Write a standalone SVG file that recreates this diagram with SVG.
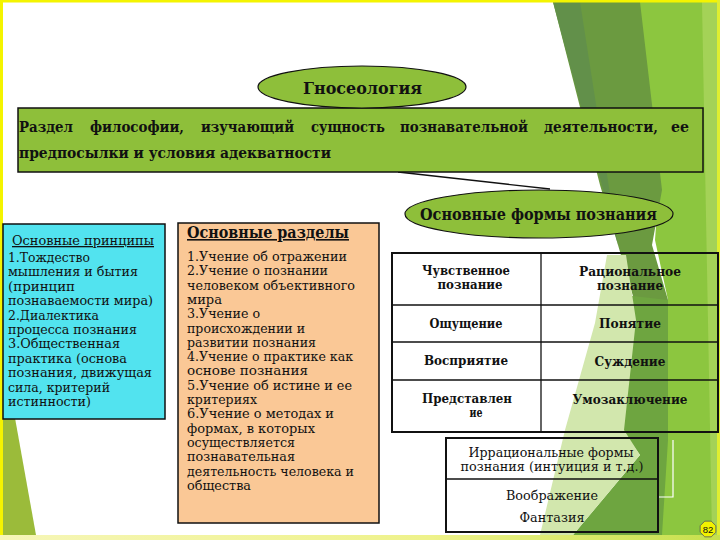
<svg xmlns="http://www.w3.org/2000/svg" width="720" height="540" viewBox="0 0 720 540">
<defs>
<style>
.t{fill:#111;font-family:"DejaVu Serif","Liberation Serif",serif;}
.n{font-size:13px;}
.b{font-weight:bold;}
.u{text-decoration:underline;}
.box{stroke:#111;stroke-width:1.5;}
.ell{fill:#8ebf3a;stroke:#111;stroke-width:1.2;}
.tbl{fill:none;stroke:#111;stroke-width:2;}
.ln{stroke:#111;stroke-width:1.3;}
</style>
<linearGradient id="bot" x1="0" y1="0" x2="1" y2="0">
<stop offset="0" stop-color="#f6f6b8"/>
<stop offset="0.6" stop-color="#eef28a"/>
<stop offset="1" stop-color="#c6e04c"/>
</linearGradient>
</defs>
<g id="background">
<rect x="0" y="0" width="720" height="540" fill="#ffffff"/>
<polygon points="637,2 718,2 718,535 650,535 662,430 668,300 655,240 660,170" fill="#8cc63f"/>
<polygon points="702,2 718,2 718,535 712,535" fill="#a4d257"/>
<polygon points="553,2 640,2 662,190 652,245 668,300 668,430 640,320 618,245 600,185" fill="#6b9a40"/>
<polygon points="553,2 580,2 618,245" fill="#62904a"/>
<polygon points="624,295 668,300 668,440 662,535 573,535 640,455 622,430" fill="#6ea540"/>
<polygon points="607,255 626,255 636,320 624,430 640,455 573,535 540,535 565,430 595,323" fill="#d2e7ad"/>
<polygon points="3,418 15,418 36,535 3,535" fill="#9bbb3a"/>
<polyline points="658,497 673,497 673,440" fill="none" stroke="#ffffff" stroke-width="1.2"/>
<rect x="0" y="0" width="720" height="2.5" fill="#f4f400"/>
<rect x="0" y="0" width="3" height="540" fill="#f4f400"/>
<rect x="717" y="0" width="3" height="540" fill="#dfee30"/>
<rect x="0" y="535" width="720" height="5" fill="url(#bot)"/>
</g>
<g id="connectors">
<line class="ln" x1="398" y1="172" x2="550" y2="189"/>
</g>
<g id="definition">
<rect class="box" x="18" y="108" width="685" height="64" fill="#8ebf3a"/>
<text class="t b" font-size="14" y="132">
<tspan x="19" textLength="54" lengthAdjust="spacingAndGlyphs">Раздел</tspan>
<tspan x="90" textLength="94" lengthAdjust="spacingAndGlyphs">философии,</tspan>
<tspan x="201" textLength="93" lengthAdjust="spacingAndGlyphs">изучающий</tspan>
<tspan x="311" textLength="74" lengthAdjust="spacingAndGlyphs">сущность</tspan>
<tspan x="400" textLength="128" lengthAdjust="spacingAndGlyphs">познавательной</tspan>
<tspan x="544" textLength="114" lengthAdjust="spacingAndGlyphs">деятельности,</tspan>
<tspan x="671" textLength="18" lengthAdjust="spacingAndGlyphs">ее</tspan>
</text>
<text class="t b" font-size="14" x="19" y="158" textLength="312" lengthAdjust="spacingAndGlyphs">предпосылки и условия адекватности</text>
</g>
<g id="gnoseology">
<ellipse class="ell" cx="362" cy="87" rx="104" ry="21"/>
<text class="t b" font-size="16" x="303" y="94" textLength="119" lengthAdjust="spacingAndGlyphs">Гносеология</text>
</g>
<g id="principles" class="t n">
<rect class="box" x="3" y="224" width="162" height="195" fill="#52e3ef"/>
<text class="u" x="12" y="245" textLength="142" lengthAdjust="spacingAndGlyphs">Основные принципы</text>
<text x="8" y="262" textLength="82" lengthAdjust="spacingAndGlyphs">1.Тождество</text>
<text x="8" y="276.4" textLength="130" lengthAdjust="spacingAndGlyphs">мышления и бытия</text>
<text x="8" y="290.8" textLength="67" lengthAdjust="spacingAndGlyphs">(принцип</text>
<text x="8" y="305.2" textLength="145" lengthAdjust="spacingAndGlyphs">познаваемости мира)</text>
<text x="8" y="319.6" textLength="91" lengthAdjust="spacingAndGlyphs">2.Диалектика</text>
<text x="8" y="334" textLength="129" lengthAdjust="spacingAndGlyphs">процесса познания</text>
<text x="8" y="348.4" textLength="112" lengthAdjust="spacingAndGlyphs">3.Общественная</text>
<text x="8" y="362.8" textLength="119" lengthAdjust="spacingAndGlyphs">практика (основа</text>
<text x="8" y="377.2" textLength="144" lengthAdjust="spacingAndGlyphs">познания, движущая</text>
<text x="8" y="391.6" textLength="102" lengthAdjust="spacingAndGlyphs">сила, критерий</text>
<text x="8" y="406" textLength="83" lengthAdjust="spacingAndGlyphs">истинности)</text>
</g>
<g id="sections" class="t n">
<rect class="box" x="178" y="223" width="201" height="300" fill="#fac896"/>
<text class="b u" font-size="16" x="187" y="238" textLength="162" lengthAdjust="spacingAndGlyphs">Основные разделы</text>
<text x="187" y="261" textLength="160" lengthAdjust="spacingAndGlyphs">1.Учение об отражении</text>
<text x="187" y="275.3" textLength="141" lengthAdjust="spacingAndGlyphs">2.Учение о познании</text>
<text x="187" y="289.6" textLength="168" lengthAdjust="spacingAndGlyphs">человеком объективного</text>
<text x="187" y="303.9" textLength="35" lengthAdjust="spacingAndGlyphs">мира</text>
<text x="187" y="318.2" textLength="73" lengthAdjust="spacingAndGlyphs">3.Учение о</text>
<text x="187" y="332.5" textLength="118" lengthAdjust="spacingAndGlyphs">происхождении и</text>
<text x="187" y="346.8" textLength="129" lengthAdjust="spacingAndGlyphs">развитии познания</text>
<text x="187" y="361.1" textLength="166" lengthAdjust="spacingAndGlyphs">4.Учение о практике как</text>
<text x="187" y="375.4" textLength="121" lengthAdjust="spacingAndGlyphs">основе познания</text>
<text x="187" y="389.7" textLength="165" lengthAdjust="spacingAndGlyphs">5.Учение об истине и ее</text>
<text x="187" y="404" textLength="70" lengthAdjust="spacingAndGlyphs">критериях</text>
<text x="187" y="418.3" textLength="147" lengthAdjust="spacingAndGlyphs">6.Учение о методах и</text>
<text x="187" y="432.6" textLength="128" lengthAdjust="spacingAndGlyphs">формах, в которых</text>
<text x="187" y="446.9" textLength="108" lengthAdjust="spacingAndGlyphs">осуществляется</text>
<text x="187" y="461.2" textLength="108" lengthAdjust="spacingAndGlyphs">познавательная</text>
<text x="187" y="475.5" textLength="167" lengthAdjust="spacingAndGlyphs">деятельность человека и</text>
<text x="187" y="489.8" textLength="64" lengthAdjust="spacingAndGlyphs">общества</text>
</g>
<g id="forms">
<ellipse class="ell" cx="539" cy="214" rx="134" ry="24"/>
<text class="t b" font-size="16" x="420" y="220" textLength="237" lengthAdjust="spacingAndGlyphs">Основные формы познания</text>
</g>
<g id="forms-table">
<rect class="tbl" x="392" y="253" width="326" height="179"/>
<line class="ln" x1="541" y1="253" x2="541" y2="432"/>
<line class="ln" x1="392" y1="305" x2="718" y2="305"/>
<line class="ln" x1="392" y1="342" x2="718" y2="342"/>
<line class="ln" x1="392" y1="380" x2="718" y2="380"/>
<g class="t b" font-size="12.5" text-anchor="middle">
<text x="466" y="275" textLength="88" lengthAdjust="spacingAndGlyphs">Чувственное</text>
<text x="470" y="288.5" textLength="65" lengthAdjust="spacingAndGlyphs">познание</text>
<text x="630" y="276" textLength="102" lengthAdjust="spacingAndGlyphs">Рациональное</text>
<text x="630" y="289.5" textLength="66" lengthAdjust="spacingAndGlyphs">познание</text>
<text x="466" y="328" textLength="73" lengthAdjust="spacingAndGlyphs">Ощущение</text>
<text x="630" y="328" textLength="62" lengthAdjust="spacingAndGlyphs">Понятие</text>
<text x="466" y="365" textLength="84" lengthAdjust="spacingAndGlyphs">Восприятие</text>
<text x="630" y="366" textLength="71" lengthAdjust="spacingAndGlyphs">Суждение</text>
<text x="467" y="403" textLength="90" lengthAdjust="spacingAndGlyphs">Представлен</text>
<text x="476" y="417" textLength="13" lengthAdjust="spacingAndGlyphs">ие</text>
<text x="630" y="404" textLength="115" lengthAdjust="spacingAndGlyphs">Умозаключение</text>
</g>
</g>
<g id="irrational">
<rect class="tbl" x="446" y="438" width="212" height="94"/>
<line class="ln" x1="446" y1="479" x2="658" y2="479"/>
<g class="t n" text-anchor="middle">
<text x="551" y="457" textLength="165" lengthAdjust="spacingAndGlyphs">Иррациональные формы</text>
<text x="552" y="471" textLength="183" lengthAdjust="spacingAndGlyphs">познания (интуиция и т.д.)</text>
<text x="552" y="500" textLength="92" lengthAdjust="spacingAndGlyphs">Воображение</text>
<text x="552" y="522" textLength="65" lengthAdjust="spacingAndGlyphs">Фантазия</text>
</g>
</g>
<g id="page-number">
<polygon points="715.85,525.75 711.25,521.15 704.75,521.15 700.15,525.75 700.15,532.25 704.75,536.85 711.25,536.85 715.85,532.25" fill="#f2f200" stroke="#555" stroke-width="0.8"/>
<text x="708" y="532.5" font-family="Liberation Sans, sans-serif" font-size="9.5" text-anchor="middle" fill="#111">82</text>
</g>
</svg>
